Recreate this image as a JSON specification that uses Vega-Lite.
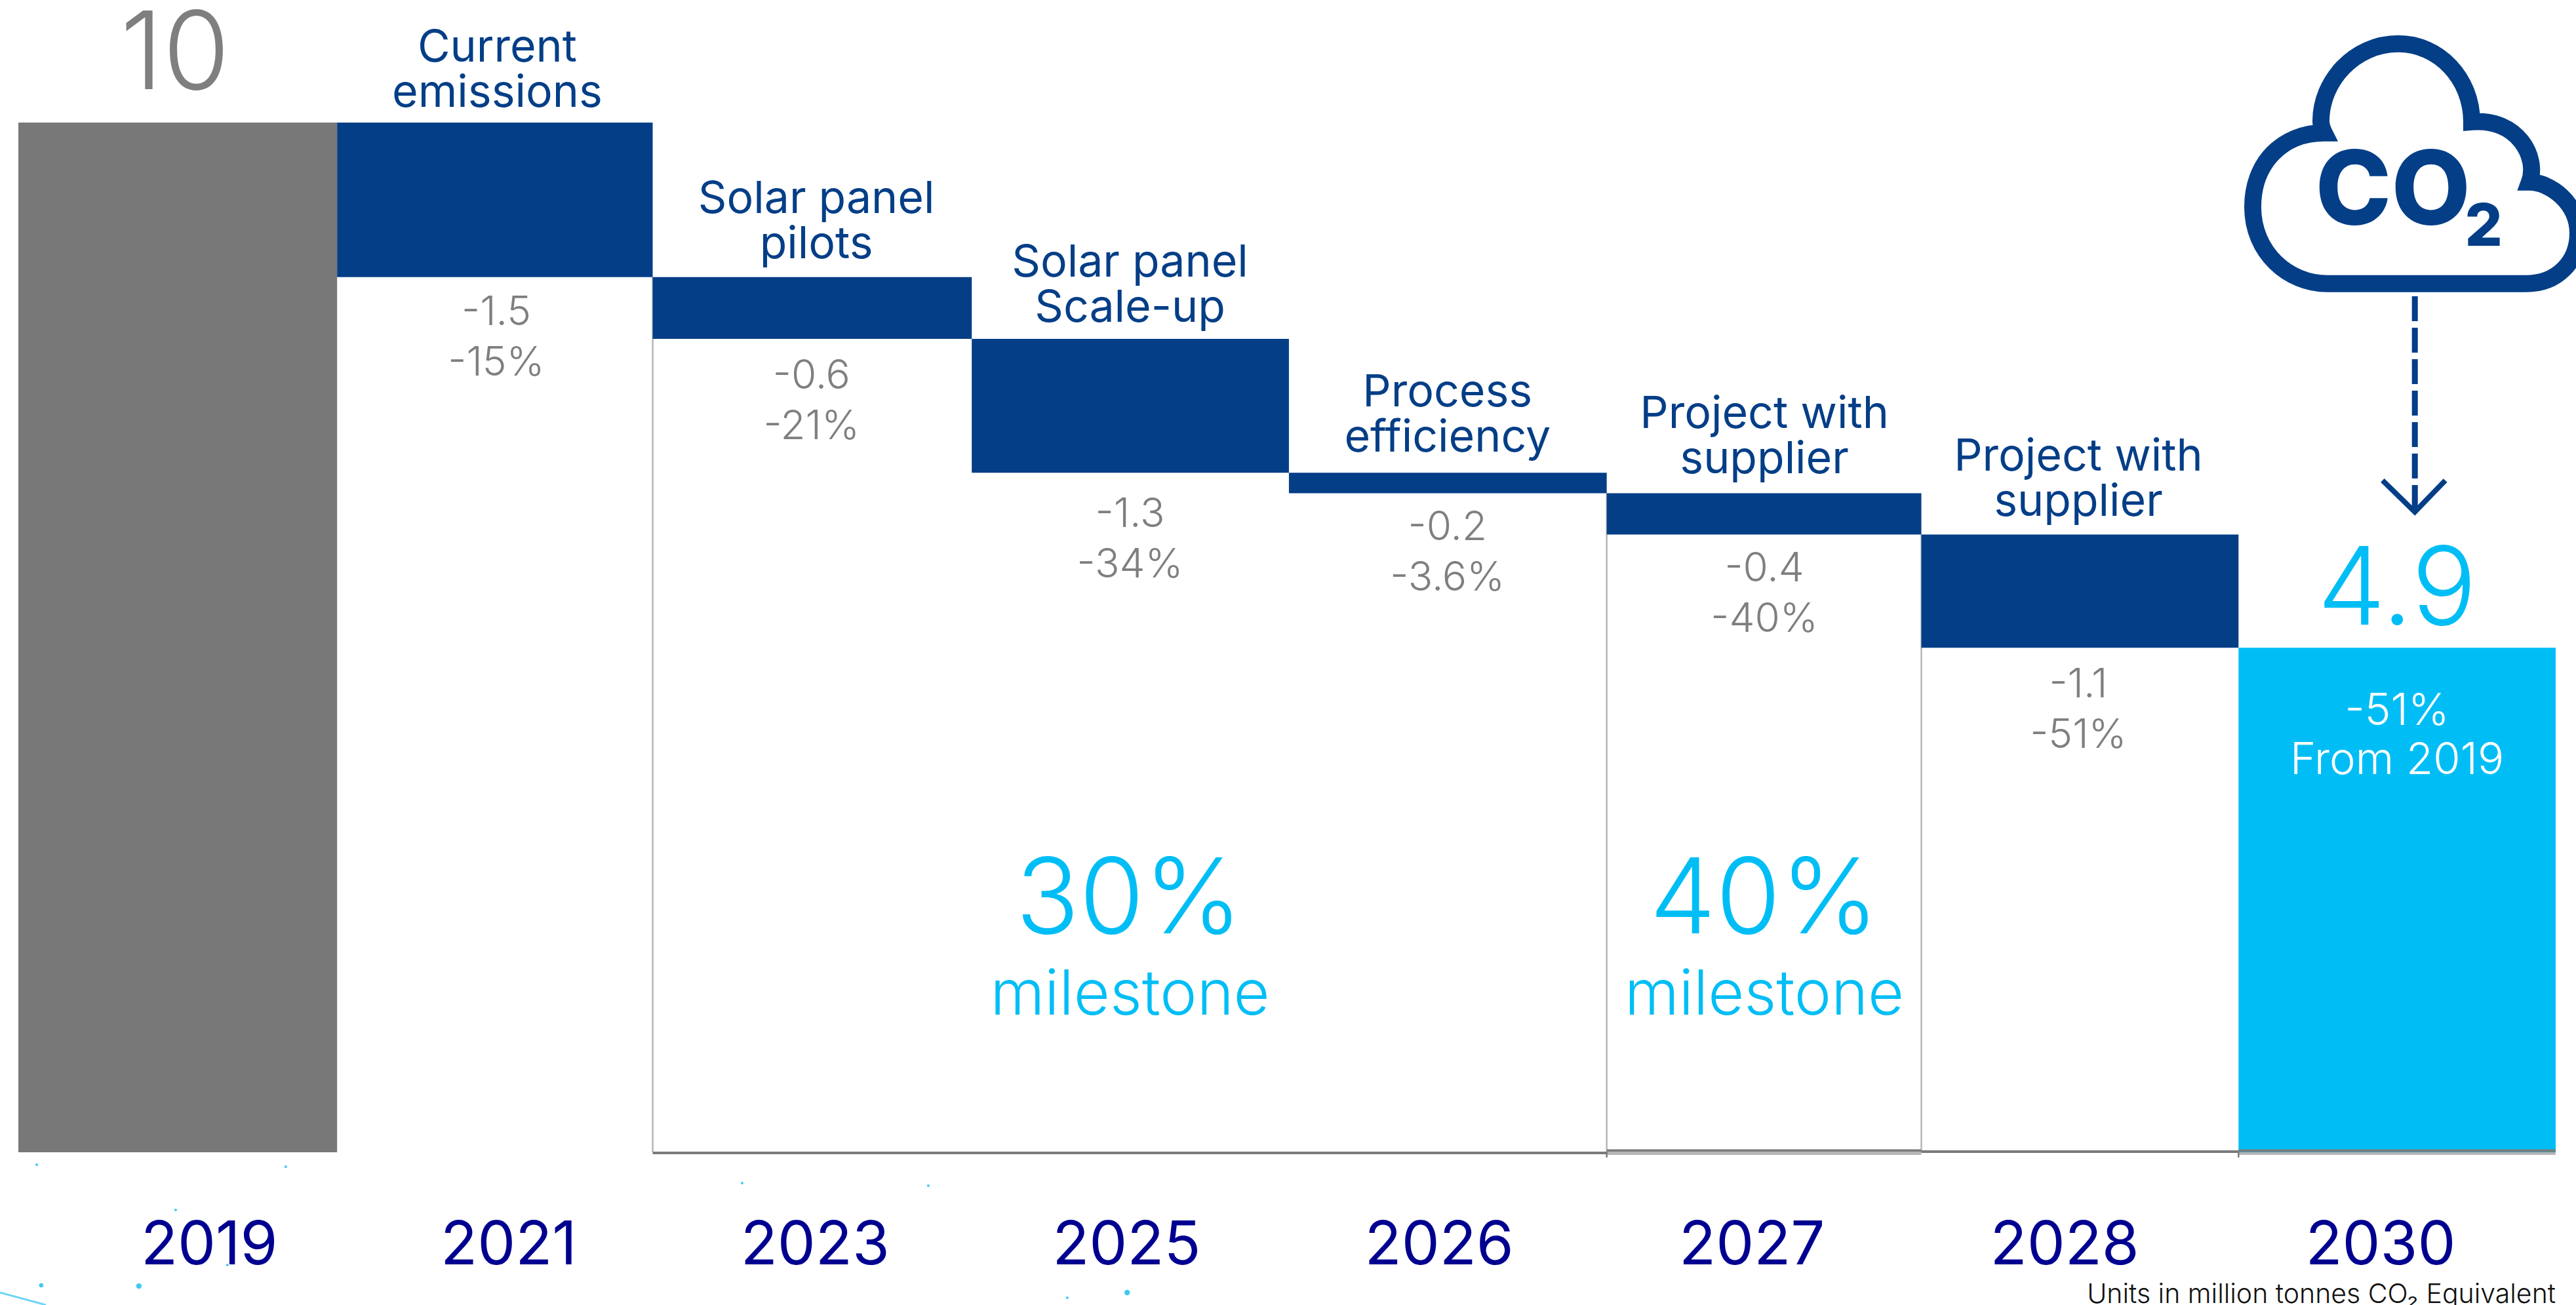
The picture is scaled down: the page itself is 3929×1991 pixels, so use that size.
{
  "$schema": "https://vega.github.io/schema/vega-lite/v6.json",
  "width": 3870,
  "height": 1571,
  "autosize": {"type": "none"},
  "padding": {"left": 28, "top": 187, "right": 31, "bottom": 233},
  "background": "white",
  "view": {"stroke": null},
  "config": {"text": {"font": "Inter"}},
  "datasets": {
    "steps": [
      {"year": "2019", "start": 0, "end": 1.005, "top": 10, "bottom": 0, "kind": "baseline"},
      {"year": "2021", "start": 1.005, "end": 2, "top": 10, "bottom": 8.5, "kind": "reduction", "mid": 1.51, "labelLevel": 10.745, "deltaMid": 1.507, "deltaLevel": 8.173, "initiative": "Current\nemissions", "delta": "-1.5\n-15%"},
      {"year": "2023", "start": 2, "end": 3.006, "top": 8.5, "bottom": 7.9, "kind": "reduction", "mid": 2.516, "labelLevel": 9.274, "deltaMid": 2.501, "deltaLevel": 7.556, "initiative": "Solar panel\npilots", "delta": "-0.6\n-21%"},
      {"year": "2025", "start": 3.006, "end": 4.006, "top": 7.9, "bottom": 6.6, "kind": "reduction", "mid": 3.505, "labelLevel": 8.657, "deltaMid": 3.505, "deltaLevel": 6.213, "initiative": "Solar panel\nScale-up", "delta": "-1.3\n-34%"},
      {"year": "2026", "start": 4.006, "end": 5.008, "top": 6.6, "bottom": 6.4, "kind": "reduction", "mid": 4.506, "labelLevel": 7.397, "deltaMid": 4.506, "deltaLevel": 6.085, "initiative": "Process\nefficiency", "delta": "-0.2\n-3.6%"},
      {"year": "2027", "start": 5.008, "end": 6, "top": 6.4, "bottom": 6, "kind": "reduction", "mid": 5.505, "labelLevel": 7.186, "deltaMid": 5.505, "deltaLevel": 5.684, "initiative": "Project with\nsupplier", "delta": "-0.4\n-40%"},
      {"year": "2028", "start": 6, "end": 7, "top": 6, "bottom": 4.9, "kind": "reduction", "mid": 6.495, "labelLevel": 6.773, "deltaMid": 6.495, "deltaLevel": 4.557, "initiative": "Project with\nsupplier", "delta": "-1.1\n-51%"},
      {"year": "2030", "start": 7, "end": 8, "top": 4.9, "bottom": 0, "kind": "target"}
    ],
    "yearLabels": [
      {"year": "2019", "pos": 0.602},
      {"year": "2021", "pos": 1.546},
      {"year": "2023", "pos": 2.512},
      {"year": "2025", "pos": 3.494},
      {"year": "2026", "pos": 4.48},
      {"year": "2027", "pos": 5.466},
      {"year": "2028", "pos": 6.452},
      {"year": "2030", "pos": 7.448}
    ],
    "connectors": [
      {"pos": 2, "from": 8.5, "to": 0},
      {"pos": 5.008, "from": 6.4, "to": 0},
      {"pos": 6, "from": 6, "to": 0}
    ],
    "floorDark": [
      {"from": 2, "to": 5.008, "level": -0.006},
      {"from": 5.008, "to": 6, "level": 0.016},
      {"from": 6, "to": 7, "level": 0.006},
      {"from": 7, "to": 8, "level": 0.016}
    ],
    "floorLight": [
      {"from": 5.008, "to": 6, "level": -0.012},
      {"from": 7, "to": 8, "level": -0.012}
    ],
    "floorTicks": [
      {"pos": 5.008, "from": 0, "to": -0.05},
      {"pos": 7, "from": 0, "to": -0.05}
    ],
    "arrowHead": [
      {"pos": 7.454, "level": 6.525, "order": 1},
      {"pos": 7.556, "level": 6.219, "order": 2},
      {"pos": 7.652, "level": 6.525, "order": 3}
    ],
    "specks": [
      {"pos": 0.058, "level": -0.121, "grade": "small"},
      {"pos": 0.843, "level": -0.14, "grade": "small"},
      {"pos": 0.496, "level": -0.56, "grade": "small"},
      {"pos": 0.659, "level": -1.095, "grade": "small"},
      {"pos": 2.282, "level": -0.299, "grade": "small"},
      {"pos": 2.869, "level": -0.325, "grade": "small"},
      {"pos": 3.307, "level": -1.413, "grade": "small"},
      {"pos": 0.072, "level": -1.292, "grade": "medium"},
      {"pos": 0.38, "level": -1.299, "grade": "large"},
      {"pos": 3.496, "level": -1.362, "grade": "large"}
    ],
    "streak": [
      {"pos": -0.058, "level": -1.362},
      {"pos": 0.087, "level": -1.483}
    ]
  },
  "layer": [
    {
      "data": {"name": "specks"},
      "mark": {"type": "point", "filled": true, "opacity": 1, "color": "#3fc8f4"},
      "encoding": {
        "x": {"field": "pos", "type": "quantitative", "scale": {"domain": [0, 8], "nice": false, "zero": false}, "axis": null},
        "y": {"field": "level", "type": "quantitative", "scale": {"domain": [0, 10], "nice": false, "zero": false}, "axis": null},
        "size": {"field": "grade", "type": "ordinal", "scale": {"domain": ["small", "medium", "large"], "range": [16, 70, 220]}, "legend": null}
      }
    },
    {
      "data": {"name": "streak"},
      "mark": {"type": "line", "color": "#6fd5f5", "strokeWidth": 3},
      "encoding": {
        "x": {"field": "pos", "type": "quantitative"},
        "y": {"field": "level", "type": "quantitative"}
      }
    },
    {
      "data": {"name": "connectors"},
      "mark": {"type": "rule", "color": "#b7b7b7", "strokeWidth": 2.5},
      "encoding": {
        "x": {"field": "pos", "type": "quantitative"},
        "y": {"field": "from", "type": "quantitative"},
        "y2": {"field": "to"}
      }
    },
    {
      "data": {"name": "steps"},
      "mark": {"type": "rect"},
      "encoding": {
        "x": {"field": "start", "type": "quantitative"},
        "x2": {"field": "end"},
        "y": {"field": "top", "type": "quantitative"},
        "y2": {"field": "bottom"},
        "color": {"field": "kind", "type": "nominal", "scale": {"domain": ["baseline", "reduction", "target"], "range": ["#787878", "#043e87", "#00bef5"]}, "legend": null}
      }
    },
    {
      "data": {"name": "floorLight"},
      "mark": {"type": "rule", "color": "#b5b5b5", "strokeWidth": 4},
      "encoding": {
        "x": {"field": "from", "type": "quantitative"},
        "x2": {"field": "to"},
        "y": {"field": "level", "type": "quantitative"}
      }
    },
    {
      "data": {"name": "floorDark"},
      "mark": {"type": "rule", "color": "#7a7a7a", "strokeWidth": 4},
      "encoding": {
        "x": {"field": "from", "type": "quantitative"},
        "x2": {"field": "to"},
        "y": {"field": "level", "type": "quantitative"}
      }
    },
    {
      "data": {"name": "floorTicks"},
      "mark": {"type": "rule", "color": "#7a7a7a", "strokeWidth": 2.5},
      "encoding": {
        "x": {"field": "pos", "type": "quantitative"},
        "y": {"field": "from", "type": "quantitative"},
        "y2": {"field": "to"}
      }
    },
    {
      "data": {"name": "steps"},
      "transform": [{"filter": "datum.kind === 'reduction'"}],
      "mark": {"type": "text", "baseline": "middle", "lineBreak": "\n", "fontSize": 68, "lineHeight": 69, "dy": 4, "fontWeight": 400, "color": "#043e87"},
      "encoding": {
        "x": {"field": "mid", "type": "quantitative"},
        "y": {"field": "labelLevel", "type": "quantitative"},
        "text": {"field": "initiative"}
      }
    },
    {
      "data": {"name": "steps"},
      "transform": [{"filter": "datum.kind === 'reduction'"}],
      "mark": {"type": "text", "baseline": "middle", "lineBreak": "\n", "fontSize": 62, "lineHeight": 77, "dy": 3, "fontWeight": 300, "color": "#7f7f7f"},
      "encoding": {
        "x": {"field": "deltaMid", "type": "quantitative"},
        "y": {"field": "deltaLevel", "type": "quantitative"},
        "text": {"field": "delta"}
      }
    },
    {
      "data": {"name": "yearLabels"},
      "mark": {"type": "text", "baseline": "middle", "fontSize": 92, "fontWeight": 400, "color": "#000090"},
      "encoding": {
        "x": {"field": "pos", "type": "quantitative"},
        "y": {"datum": -0.91, "type": "quantitative"},
        "text": {"field": "year"}
      }
    },
    {
      "data": {"values": [{"pos": 0.494, "level": 10.64, "label": "10"}]},
      "mark": {"type": "text", "baseline": "middle", "fontSize": 165, "fontWeight": 300, "color": "#7f7f7f"},
      "encoding": {
        "x": {"field": "pos", "type": "quantitative"},
        "y": {"field": "level", "type": "quantitative"},
        "text": {"field": "label"}
      }
    },
    {
      "data": {"values": [{"pos": 7.5, "level": 5.44, "label": "4.9"}]},
      "mark": {"type": "text", "baseline": "middle", "fontSize": 165, "fontWeight": 300, "color": "#00bef5"},
      "encoding": {
        "x": {"field": "pos", "type": "quantitative"},
        "y": {"field": "level", "type": "quantitative"},
        "text": {"field": "label"}
      }
    },
    {
      "data": {"values": [
        {"pos": 3.502, "level": 2.43, "label": "30%"},
        {"pos": 5.505, "level": 2.43, "label": "40%"}
      ]},
      "mark": {"type": "text", "baseline": "middle", "fontSize": 160, "fontWeight": 300, "color": "#00bef5"},
      "encoding": {
        "x": {"field": "pos", "type": "quantitative"},
        "y": {"field": "level", "type": "quantitative"},
        "text": {"field": "label"}
      }
    },
    {
      "data": {"values": [
        {"pos": 3.505, "level": 1.52, "label": "milestone"},
        {"pos": 5.505, "level": 1.52, "label": "milestone"}
      ]},
      "mark": {"type": "text", "baseline": "middle", "fontSize": 95, "fontWeight": 300, "color": "#00bef5"},
      "encoding": {
        "x": {"field": "pos", "type": "quantitative"},
        "y": {"field": "level", "type": "quantitative"},
        "text": {"field": "label"}
      }
    },
    {
      "data": {"values": [
        {"pos": 7.5, "level": 4.28, "label": "-51%"},
        {"pos": 7.5, "level": 3.8, "label": "From 2019"}
      ]},
      "mark": {"type": "text", "baseline": "middle", "fontSize": 67, "fontWeight": 300, "color": "white"},
      "encoding": {
        "x": {"field": "pos", "type": "quantitative"},
        "y": {"field": "level", "type": "quantitative"},
        "text": {"field": "label"}
      }
    },
    {
      "data": {"values": [{"pos": 8, "level": -1.385, "label": "Units in million tonnes CO₂ Equivalent"}]},
      "mark": {"type": "text", "align": "right", "baseline": "middle", "fontSize": 41, "fontWeight": 300, "color": "#111111"},
      "encoding": {
        "x": {"field": "pos", "type": "quantitative"},
        "y": {"field": "level", "type": "quantitative"},
        "text": {"field": "label"}
      }
    },
    {
      "data": {"values": [{"pos": 7.541, "level": 9.6}]},
      "mark": {
        "type": "point",
        "filled": false,
        "opacity": 1,
        "size": 4,
        "color": "#043e87",
        "strokeWidth": 26,
        "shape": "M-126,183L177,183C224,183 256,150 256,106C256,60 214,28 182,28C196,-10 164,-70 94,-64C94,-130 44,-183 -18,-183C-86,-183 -136,-125 -136,-65C-136,-58 -134,-53 -131,-47C-196,-47 -240,0 -240,66C-240,135 -186,183 -126,183Z"
      },
      "encoding": {
        "x": {"field": "pos", "type": "quantitative"},
        "y": {"field": "level", "type": "quantitative"}
      }
    },
    {
      "data": {"values": [{"pos": 7.487, "level": 9.31, "label": "CO"}]},
      "mark": {"type": "text", "baseline": "middle", "fontSize": 156, "fontWeight": 800, "color": "#043e87"},
      "encoding": {
        "x": {"field": "pos", "type": "quantitative"},
        "y": {"field": "level", "type": "quantitative"},
        "text": {"field": "label"}
      }
    },
    {
      "data": {"values": [{"pos": 7.773, "level": 8.975, "label": "2"}]},
      "mark": {"type": "text", "baseline": "middle", "fontSize": 90, "fontWeight": 800, "color": "#043e87"},
      "encoding": {
        "x": {"field": "pos", "type": "quantitative"},
        "y": {"field": "level", "type": "quantitative"},
        "text": {"field": "label"}
      }
    },
    {
      "data": {"values": [{"pos": 7.556, "from": 8.313, "to": 6.24}]},
      "mark": {"type": "rule", "color": "#043e87", "strokeWidth": 9, "strokeDash": [38, 10]},
      "encoding": {
        "x": {"field": "pos", "type": "quantitative"},
        "y": {"field": "from", "type": "quantitative"},
        "y2": {"field": "to"}
      }
    },
    {
      "data": {"name": "arrowHead"},
      "mark": {"type": "line", "color": "#043e87", "strokeWidth": 8},
      "encoding": {
        "x": {"field": "pos", "type": "quantitative"},
        "y": {"field": "level", "type": "quantitative"},
        "order": {"field": "order", "type": "quantitative"}
      }
    }
  ]
}
